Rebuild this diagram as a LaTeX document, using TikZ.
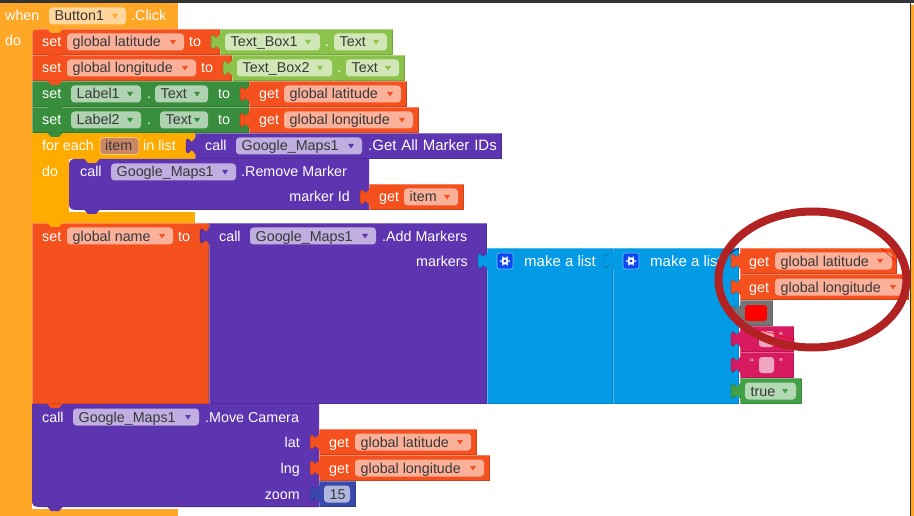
\documentclass[tikz,border=0pt]{standalone}
\usepackage{fontspec}
\setmainfont{Liberation Sans}
\definecolor{evt}{HTML}{FFA726}
\definecolor{ctl}{HTML}{FFAB00}
\definecolor{var}{HTML}{F4511E}
\definecolor{varL}{HTML}{FBB09A}
\definecolor{tbx}{HTML}{8BC34A}
\definecolor{tbxL}{HTML}{D1E7B7}
\definecolor{lbl}{HTML}{388E3C}
\definecolor{lblL}{HTML}{AFD2B1}
\definecolor{pur}{HTML}{5E35B1}
\definecolor{purL}{HTML}{BFAEDF}
\definecolor{lst}{HTML}{039BE5}
\definecolor{gearb}{HTML}{0D47F1}
\definecolor{pnk}{HTML}{D81B60}
\definecolor{pnkL}{HTML}{EFA4BF}
\definecolor{bool}{HTML}{43A047}
\definecolor{boolL}{HTML}{B4D9B5}
\definecolor{num}{HTML}{3949AB}
\definecolor{numL}{HTML}{B0B6DD}
\definecolor{gry}{HTML}{757575}
\definecolor{ring}{HTML}{B22222}
\definecolor{itemf}{HTML}{CB8765}
\tikzset{x=1pt,y=-1pt,
 txt/.style={font=\fontsize{14.3}{16}\selectfont,text=white,inner sep=0pt,anchor=base west},
 ftxt/.style={font=\fontsize{14.3}{16}\selectfont,text=black!78,inner sep=0pt,anchor=base west},
 wtxt/.style={txt,font=\fontsize{15}{16}\selectfont},
 qt/.style={font=\fontsize{11}{11}\selectfont,text=white,inner sep=0pt,anchor=base}}
\newcommand{\blk}[5]{\fill[#5] (#1,#2) rectangle (#3,#4);
 \draw[#5!85!black,line width=.8pt] (#1+.4,#4-.4) -- (#3-.4,#4-.4) -- (#3-.4,#2+.4);
 \draw[#5!70!white,line width=.7pt] (#1+.4,#4-.4) -- (#1+.4,#2+.4) -- (#3-.4,#2+.4);}
% value tab at left edge x, row top y
\newcommand{\tab}[3]{\fill[#3] (#1+1,#2+4) .. controls (#1-1,#2+6) and (#1-2,#2+9) .. (#1-4,#2+9)
   .. controls (#1-5,#2+9) and (#1-5,#2+6) .. (#1-7,#2+6) .. controls (#1-9,#2+6) and (#1-9,#2+9) .. (#1-9,#2+13)
   .. controls (#1-9,#2+17) and (#1-9,#2+20) .. (#1-7,#2+20) .. controls (#1-5,#2+20) and (#1-5,#2+17) .. (#1-4,#2+17)
   .. controls (#1-2,#2+17) and (#1-1,#2+20) .. (#1+1,#2+22) -- cycle;
 \draw[#3!75!black,line width=.5pt] (#1-4,#2+9)
   .. controls (#1-5,#2+9) and (#1-5,#2+6) .. (#1-7,#2+6) .. controls (#1-9,#2+6) and (#1-9,#2+9) .. (#1-9,#2+13)
   .. controls (#1-9,#2+17) and (#1-9,#2+20) .. (#1-7,#2+20) .. controls (#1-5,#2+20) and (#1-5,#2+17) .. (#1-4,#2+17);}
\newcommand{\bump}[3]{\fill[#3] (#1+15,#2-.5) -- (#1+31,#2-.5) -- (#1+27,#2+4) -- (#1+19,#2+4) -- cycle;}
\newcommand{\cor}[3]{\fill[#3] (#1,#2) -- (#1+5,#2) .. controls (#1+2,#2) and (#1,#2+2) .. (#1,#2+5) -- cycle;}
\newcommand{\fld}[6]{\fill[#4,rounded corners=3.5pt] (#1,#3+4.5) rectangle (#2,#3+21.5);
 \node[ftxt] (#6) at (#1+5.5,#3+18) {#5};}
\newcommand{\drp}[3]{\fill[#3] (#1-3,#2+11) -- (#1+3,#2+11) -- (#1,#2+15.5) -- cycle;}
\newcommand{\lab}[4]{\node[txt] (#4) at (#1,#2+20) {#3};}
\begin{document}
\begin{tikzpicture}
\useasboundingbox (0,0) rectangle (914,516);
\fill[white] (0,0) rectangle (914,516);
\fill[black!80] (0,0) rectangle (914,3);
\fill[evt] (911,5) rectangle (914,516);
\fill[black!80] (910,0) rectangle (911.2,516);
% event
\fill[evt] (0,3) rectangle (178,29);
\fill[evt] (0,29) rectangle (32,516);
\fill[evt] (0,508.5) rectangle (178,516);
\lab{5}{1}{when}{a1}
\fld{49}{126}{3}{evt!45!white}{Button1}{a2}\drp{115}{3}{evt}
\lab{131}{1}{.Click}{a3}
\lab{5}{26}{do}{a4}
% statement rows
\blk{32}{29}{220}{55}{var}
\blk{32}{55}{232}{81}{var}
\blk{32}{81}{249}{107}{lbl}
\blk{32}{107}{249}{133}{lbl}
\cor{32}{29}{evt}
\bump{32}{29}{evt}\bump{32}{55}{var}\bump{32}{81}{var}\bump{32}{107}{lbl}
\blk{220}{29}{393}{55}{tbx}\tab{220}{29}{tbx}
\blk{232}{55}{405}{81}{tbx}\tab{232}{55}{tbx}
\lab{42}{27}{set}{b1}\fld{67}{184}{29}{varL}{global latitude}{b2}\drp{173}{29}{var}\lab{189}{27}{to}{b3}
\fld{225}{320}{29}{tbxL}{Text\_Box1}{b4}\drp{308}{29}{tbx}\lab{325}{27}{.}{b5}\fld{334}{387}{29}{tbxL}{Text}{b6}\drp{376}{29}{tbx}
\lab{42}{53}{set}{c1}\fld{67}{196}{55}{varL}{global longitude}{c2}\drp{185}{55}{var}\lab{201}{53}{to}{c3}
\fld{237}{332}{55}{tbxL}{Text\_Box2}{c4}\drp{320}{55}{tbx}\lab{337}{53}{.}{c5}\fld{346}{399}{55}{tbxL}{Text}{c6}\drp{388}{55}{tbx}
\lab{42}{79}{set}{d1}\fld{71}{141}{81}{lblL}{Label1}{d2}\drp{130}{81}{lbl}\lab{147}{79}{.}{d3}\fld{155}{208}{81}{lblL}{Text}{d4}\drp{197}{81}{lbl}\lab{218}{79}{to}{d5}
\lab{42}{105}{set}{e1}\fld{71}{141}{107}{lblL}{Label2}{e2}\drp{130}{107}{lbl}\lab{147}{105}{.}{e3}\fld{160}{208}{107}{lblL}{Text}{e4}\drp{197}{107}{lbl}\lab{218}{105}{to}{e5}
% gets
\blk{249}{81}{407}{107}{var}\tab{249}{81}{var}
\lab{259}{79}{get}{f1}\fld{284}{401}{81}{varL}{global latitude}{f2}\drp{390}{81}{var}
\blk{249}{107}{419}{133}{var}\tab{249}{107}{var}
\lab{259}{105}{get}{g1}\fld{284}{413}{107}{varL}{global longitude}{g2}\drp{402}{107}{var}
% for each
\fill[ctl] (32,133) rectangle (195,159);
\fill[ctl] (32,159) rectangle (69,212);
\fill[ctl] (32,212) rectangle (195,223);
\bump{32}{133}{lbl}
\lab{42}{131}{for each}{h1}
\fill[itemf,rounded corners=3.5pt,draw=ctl!55!white,line width=.8pt] (100,137.5) rectangle (139,154.5);
\node[ftxt] (h2) at (105,151) {item};
\lab{143}{131}{in list}{h3}
\lab{42}{157}{do}{h4}
\blk{195}{133}{502}{159}{pur}\tab{195}{133}{pur}
\lab{205}{131}{call}{i1}\fld{236}{362}{133}{purL}{Google\_Maps1}{i2}\drp{351}{133}{pur}
\node[wtxt] (i3) at (368,151) {\spaceskip=4.8pt .Get All Marker IDs};
% remove marker
\fill[white] (69,198) rectangle (88,212);
\fill[pur] (75,159) -- (369,159) -- (369,210) -- (76,210) .. controls (71,210) and (69,208) .. (69,204) -- (69,165) .. controls (69,161) and (71,159) .. (75,159) -- cycle;
\draw[pur!85!black,line width=.7pt] (76,209.7) -- (369,209.7);
\bump{69}{159}{ctl}
\bump{69}{210}{pur}
\lab{80}{157}{call}{j1}\fld{111}{236}{159}{purL}{Google\_Maps1}{j2}\drp{225}{159}{pur}\lab{241}{157}{.Remove Marker}{j3}
\node[txt,anchor=base east] (j4) at (350,202) {marker Id};
\blk{369}{184}{464}{210}{var}\tab{369}{184}{var}
\lab{379}{182}{get}{k1}\fld{404}{458}{184}{varL}{item}{k2}\drp{447}{184}{var}
% set global name
\blk{32}{223}{209}{404}{var}
\bump{32}{223}{ctl}
\lab{42}{221}{set}{l1}\fld{67}{173}{223}{varL}{global name}{l2}\drp{162}{223}{var}\lab{178}{221}{to}{l3}
\blk{209}{223}{487}{404}{pur}\tab{209}{223}{pur}
\lab{219}{221}{call}{m1}\fld{250}{376}{223}{purL}{Google\_Maps1}{m2}\drp{365}{223}{pur}\lab{382}{221}{.Add Markers}{m3}
\node[txt,anchor=base east] (m4) at (468,266) {markers};
\blk{487}{248}{613}{404}{lst}\tab{487}{248}{lst}
\blk{613}{248}{739}{404}{lst}\tab{613}{248}{lst}
\foreach \gx in {505,631}{
 \fill[gearb,draw=lst!60!white,line width=.6pt,rounded corners=2.5pt] (\gx-8,253) rectangle (\gx+8,269);
 \fill[white] (\gx,261) circle (3.7pt);
 \foreach \a in {0,60,...,300}{\fill[white] (\gx,261) ++(\a:4.3) circle (.9pt);}
 \fill[gearb] (\gx,261) circle (1.7pt);
}
\node[wtxt] (n3) at (524,266) {make a list};
\node[wtxt] (n4) at (650,266) {make a list};
% list items
\blk{740}{248}{897}{274}{var}\tab{740}{248}{var}
\lab{749}{246}{get}{o1}\fld{775}{892}{248}{varL}{global latitude}{o2}\drp{880}{248}{var}
\blk{740}{274}{909}{300}{var}\tab{740}{274}{var}
\lab{749}{272}{get}{p1}\fld{775}{904}{274}{varL}{global longitude}{p2}\drp{893}{274}{var}
\blk{740}{300}{773}{326}{gry}\tab{740}{300}{gry}
\fill[red,rounded corners=3pt] (745,305) rectangle (767,321);
\blk{740}{326}{794}{352}{pnk}\tab{740}{326}{pnk}
\blk{740}{352}{794}{378}{pnk}\tab{740}{352}{pnk}
\fill[pnkL,rounded corners=3pt] (759,331) rectangle (774,347);
\fill[pnkL,rounded corners=3pt] (759,357) rectangle (774,373);
\node[qt] (q1) at (752,366) {“};
\node[qt] (q2) at (781,366) {”};
\node[qt] (q3) at (781,340) {”};
\blk{740}{378}{802}{404}{bool}\tab{740}{378}{bool}
\fld{745}{796}{378}{boolL}{true}{r1}\drp{785}{378}{bool}
% move camera
\fill[white] (32,495) rectangle (50,509);
\fill[pur] (32,404) -- (319,404) -- (319,507) -- (39,507) .. controls (34,507) and (32,505) .. (32,501) -- cycle;
\draw[pur!85!black,line width=.7pt] (39,506.7) -- (319,506.7);
\bump{32}{404}{var}
\bump{32}{507}{pur}
\lab{42}{402}{call}{s1}\fld{73}{199}{404}{purL}{Google\_Maps1}{s2}\drp{188}{404}{pur}\lab{205}{402}{.Move Camera}{s3}
\node[txt,anchor=base east] (s4) at (300,447) {lat};
\node[txt,anchor=base east] (s5) at (300,473) {lng};
\node[txt,anchor=base east] (s6) at (300,499) {zoom};
\blk{319}{429}{477}{455}{var}\tab{319}{429}{var}
\lab{329}{427}{get}{t1}\fld{355}{471}{429}{varL}{global latitude}{t2}\drp{460}{429}{var}
\blk{319}{455}{490}{481}{var}\tab{319}{455}{var}
\lab{329}{453}{get}{u1}\fld{355}{484}{455}{varL}{global longitude}{u2}\drp{473}{455}{var}
\blk{319}{481}{356}{507}{num}\tab{319}{481}{num}
\fld{324}{350}{481}{numL}{15}{v1}
% ring
\draw[blue!40!black,line width=.7pt] (739,248) .. controls (712,260) and (706,295) .. (739,320);
\draw[ring,line width=8pt] (812.5,279.5) ellipse (94 and 68);
\draw[red,line width=.6pt] (881,248) -- (897,262);
\draw[red,line width=.6pt] (760,330) -- (795,340);
\end{tikzpicture}
\end{document}
